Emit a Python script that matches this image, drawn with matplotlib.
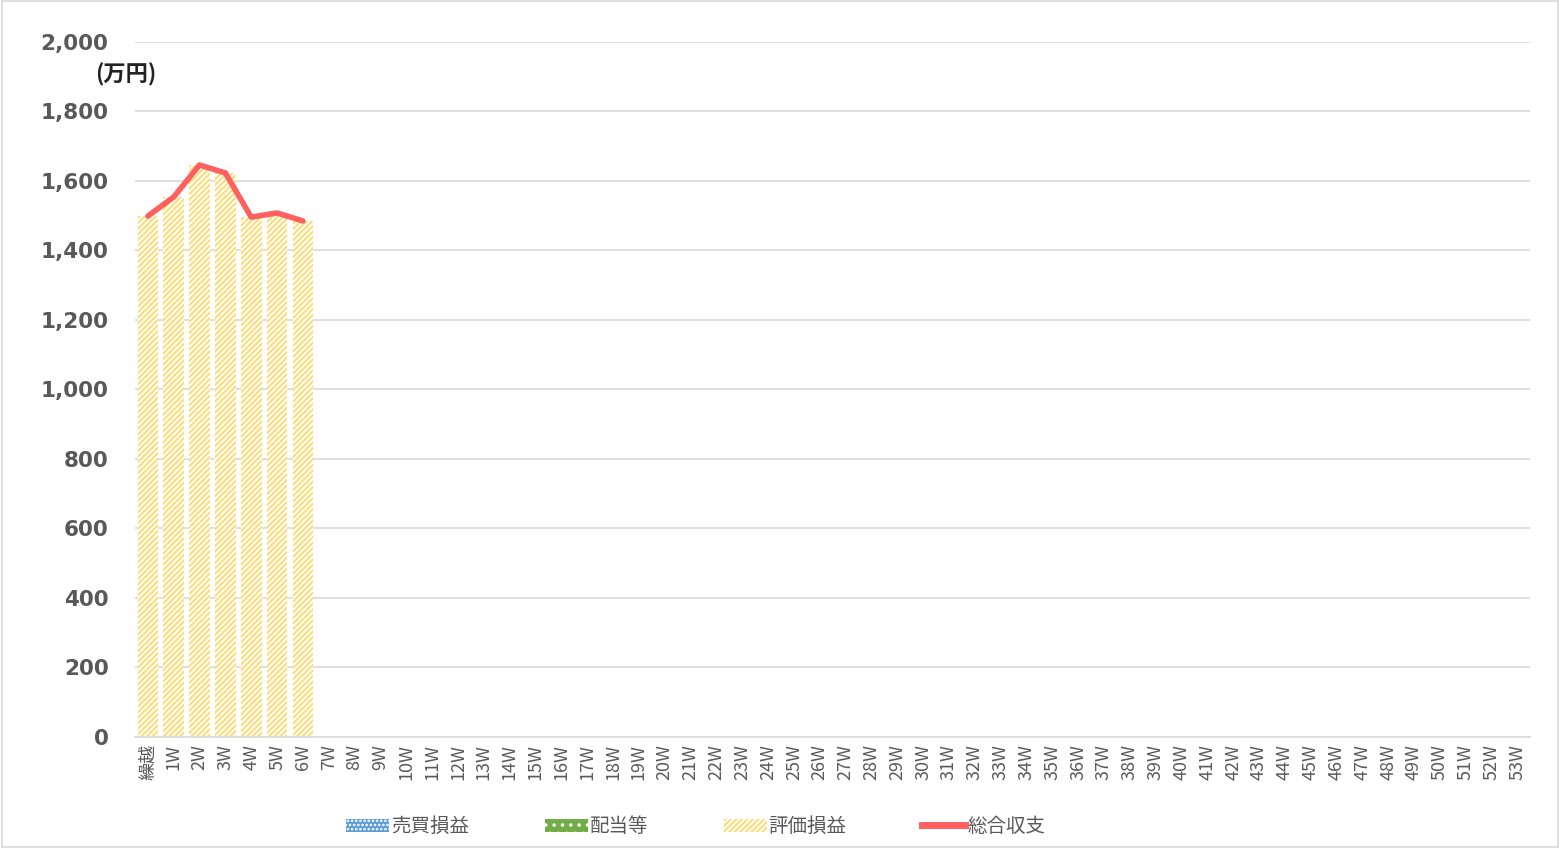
import matplotlib.pyplot as plt
from matplotlib.patches import Patch, Rectangle
from matplotlib.lines import Line2D

plt.rcParams['font.family'] = ['Noto Sans CJK JP', 'DejaVu Sans']
plt.rcParams['hatch.linewidth'] = 1.3

# categories: carry-over + weeks 1..53
weeks = ['繰越'] + [f'{i}W' for i in range(1, 54)]

# values (万円), only first 7 filled
trade_pl = [0, 0, 0, 0, 0, 0, 0]        # 売買損益
dividends = [0, 0, 0, 0, 0, 0, 0]       # 配当等
unrealized = [1499, 1554, 1646, 1623, 1496, 1508, 1485]  # 評価損益
total = [1499, 1554, 1646, 1623, 1496, 1508, 1485]       # 総合収支

yellow = '#FFD966'
blue = '#5B9BD5'
green = '#70AD47'
red = '#FF5F5F'
grey = '#595959'

fig = plt.figure(figsize=(15.6, 8.48), dpi=100)
ax = fig.add_axes([0.0865, 0.1309, 0.8945, 0.8196])

n = len(unrealized)
x = list(range(n))
ax.bar(x, trade_pl, width=0.8, color=blue, zorder=2)
ax.bar(x, dividends, width=0.8, bottom=trade_pl, color=green, zorder=2)
base = [a + b for a, b in zip(trade_pl, dividends)]
ax.bar(x, unrealized, width=0.8, bottom=base, facecolor='white',
       edgecolor=yellow, hatch='//////', linewidth=0, zorder=2)
ax.plot(x, total, color=red, linewidth=4, solid_capstyle='round', zorder=3)

ax.set_xlim(-0.5, len(weeks) - 0.5)
ax.set_ylim(0, 2000)
ax.set_yticks(range(0, 2001, 200))
ax.set_yticklabels([f'{v:,}' for v in range(0, 2001, 200)],
                   fontsize=15.5, fontweight='bold', color=grey,
                   family=['DejaVu Sans'])
ax.set_xticks(range(len(weeks)))
ax.set_xticklabels(weeks, rotation=90, fontsize=13, color=grey)
ax.tick_params(axis='y', length=0, pad=19)
ax.tick_params(axis='x', length=0, pad=5)

ax.grid(axis='y', color='#D9D9D9', linewidth=1.2, zorder=0)
ax.set_axisbelow(True)
for s in ['left', 'right', 'top']:
    ax.spines[s].set_visible(False)
ax.spines['bottom'].set_color('#D9D9D9')
ax.spines['bottom'].set_linewidth(1.2)

fig.text(0.061, 0.912, '(万円)', fontsize=16, fontweight='bold', color='#222222',
         va='center')

handles = [
    Patch(facecolor=blue, edgecolor='white', hatch='....', linewidth=0),
    Patch(facecolor=green, edgecolor='white', hatch='..', linewidth=0),
    Patch(facecolor='white', edgecolor=yellow, hatch='//////', linewidth=0),
    Line2D([0], [0], color=red, linewidth=5),
]
labels = ['売買損益', '配当等', '評価損益', '総合収支']
fig.legend(handles, labels, loc='center', bbox_to_anchor=(0.446, 0.025),
           ncol=4, frameon=False, fontsize=14, columnspacing=3.9,
           handlelength=2.2, handletextpad=0.1, labelcolor=grey)

fig.patches.append(Rectangle((0.001, 0.001), 0.998, 0.998, transform=fig.transFigure,
                             fill=False, edgecolor='#D9D9D9', linewidth=1.2))

fig.savefig('out.png', dpi=100)
